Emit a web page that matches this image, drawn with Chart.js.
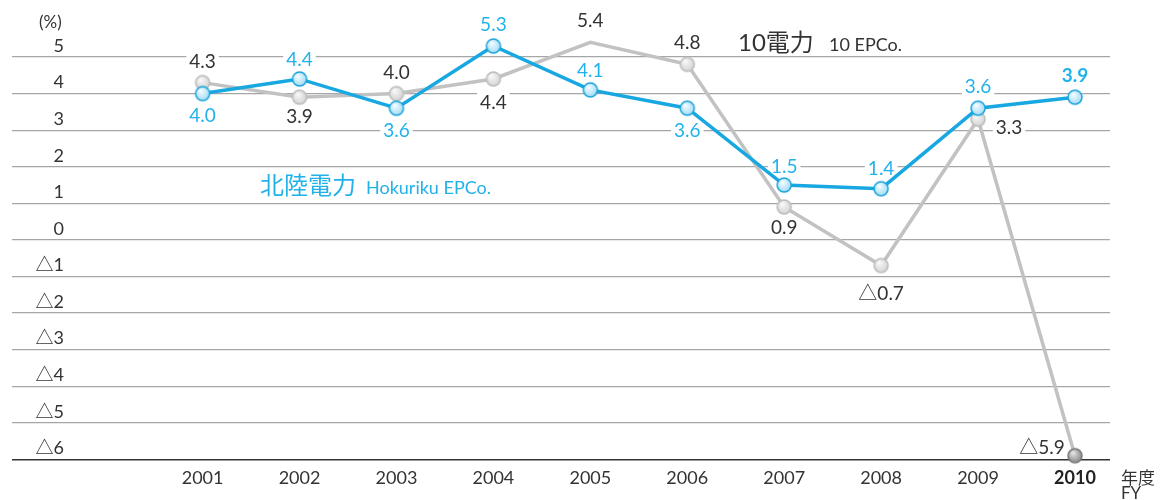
<!DOCTYPE html>
<html lang="ja">
<head>
<meta charset="UTF-8">
<title>経常利益率の推移</title>
<script src="https://cdn.jsdelivr.net/npm/chart.js"></script>
<style>
    body { margin: 0; padding: 0; background: #fff; }
    .wrap { width: 1176px; height: 500px; position: relative; }
</style>
</head>
<body>
<div class="wrap"><canvas id="grafico"></canvas></div>
<script>
    // datos
    const anios = [2001, 2002, 2003, 2004, 2005, 2006, 2007, 2008, 2009, 2010];
    const hokuriku = [4.0, 4.4, 3.6, 5.3, 4.1, 3.6, 1.5, 1.4, 3.6, 3.9];
    const diezEPCo = [4.3, 3.9, 4.0, 4.4, 5.4, 4.8, 0.9, -0.7, 3.3, -5.9];
    const yTicks = [5, 4, 3, 2, 1, 0, -1, -2, -3, -4, -5, -6];

    // posicion de las etiquetas (dx, dy) respecto al punto
    const offHokuriku = [[0,22],[0,-19],[0,23],[0,-21],[0,-19],[0,23],[0,-18],[0,-20],[0,-21],[0,-21]];
    const offDiez = [[0,-21],[0,20],[0,-21],[0,24],[0,-21],[0,-21],[0,21],[0,28],[31,9],[-33,-8]];

    const AZUL = '#17a7e1';
    const AZUL_TXT = '#22b2ea';
    const GRIS = '#c2c2c2';
    const TXT = '#333';
    const FUENTE = 'Lato, "Noto Sans CJK JP", sans-serif';

    function fmt(v) {
        return v < 0 ? '△' + Math.abs(v).toFixed(1) : v.toFixed(1);
    }

    function esfera(borde, c1, c2) {
        const c = document.createElement('canvas');
        c.width = 18; c.height = 18;
        const g = c.getContext('2d');
        const grad = g.createRadialGradient(7, 6, 1, 9, 9, 8);
        grad.addColorStop(0, c1);
        grad.addColorStop(1, c2);
        g.beginPath();
        g.arc(9, 9, 7, 0, Math.PI * 2);
        g.fillStyle = grad;
        g.fill();
        g.lineWidth = 1.5;
        g.strokeStyle = borde;
        g.stroke();
        return c;
    }
    const ptAzul = esfera('#1aa3dc', '#f2fbff', '#9ad9f4');
    const ptGris = esfera('#bdbdbd', '#f7f7f7', '#cfcfcf');
    const ptGrisOsc = esfera('#7a7a7a', '#e0e0e0', '#808080');

    const etiquetas = {
        id: 'etiquetas',
        cajas(chart) {
            const out = [];
            const ctx = chart.ctx;
            chart.data.datasets.forEach((ds, i) => {
                const meta = chart.getDatasetMeta(i);
                meta.data.forEach((pt, j) => {
                    const o = ds.offsets[j];
                    const bold = ds.boldLast && j === ds.data.length - 1;
                    const font = (bold ? 'bold ' : '') + '19px ' + FUENTE;
                    ctx.font = font;
                    const txt = fmt(ds.data[j].y);
                    const w = ctx.measureText(txt).width;
                    out.push({ x: pt.x + o[0], y: pt.y + o[1], w, txt, font, color: ds.textColor });
                });
            });
            return out;
        },
        beforeDatasetsDraw(chart) {
            const ctx = chart.ctx;
            ctx.save();
            ctx.fillStyle = '#fff';
            this.cajas(chart).forEach(b => {
                ctx.fillRect(b.x - b.w / 2 - 3, b.y - 10, b.w + 6, 20);
            });
            ctx.restore();
        },
        afterDatasetsDraw(chart) {
            const ctx = chart.ctx;
            ctx.save();
            ctx.textAlign = 'center';
            ctx.textBaseline = 'middle';
            this.cajas(chart).forEach(b => {
                ctx.font = b.font;
                ctx.fillStyle = b.color;
                ctx.fillText(b.txt, b.x, b.y);
            });

            // textos sueltos
            ctx.textAlign = 'left';
            ctx.textBaseline = 'alphabetic';
            ctx.fillStyle = TXT;
            ctx.font = '17px ' + FUENTE;
            ctx.fillText('(%)', 39, 28);
            ctx.font = '24px ' + FUENTE;
            ctx.fillText('10電力', 738, 51);
            ctx.font = '18px ' + FUENTE;
            ctx.fillText('10 EPCo.', 829, 51);
            ctx.fillStyle = AZUL_TXT;
            ctx.font = '24px ' + FUENTE;
            ctx.fillText('北陸電力', 260, 194);
            ctx.font = '18px ' + FUENTE;
            ctx.fillText('Hokuriku EPCo.', 366, 194);
            ctx.fillStyle = TXT;
            ctx.font = '17px ' + FUENTE;
            ctx.fillText('年度', 1121, 484);
            ctx.fillText('FY', 1121, 499);
            ctx.restore();
        }
    };

    const ctx = document.getElementById('grafico').getContext('2d');
    new Chart(ctx, {
        type: 'line',
        data: {
            datasets: [{
                label: '北陸電力',
                data: anios.map((a, i) => ({ x: a, y: hokuriku[i] })),
                borderColor: AZUL,
                borderWidth: 3.5,
                pointStyle: ptAzul,
                pointRadius: 8,
                tension: 0,
                clip: false,
                order: 0,
                offsets: offHokuriku,
                textColor: AZUL_TXT,
                boldLast: true
            }, {
                label: '10電力',
                data: anios.map((a, i) => ({ x: a, y: diezEPCo[i] })),
                borderColor: GRIS,
                borderWidth: 3.5,
                pointStyle: anios.map((a, i) => i === anios.length - 1 ? ptGrisOsc : ptGris),
                pointRadius: 8,
                tension: 0,
                clip: false,
                order: 1,
                offsets: offDiez,
                textColor: TXT
            }]
        },
        options: {
            responsive: true,
            maintainAspectRatio: false,
            animation: false,
            events: [],
            // el eje y ocupa (ancho etiqueta + padding) = 51px a la izquierda
            layout: { padding: { top: 57, left: -39, right: 66, bottom: 3 } },
            plugins: { legend: { display: false }, tooltip: { enabled: false } },
            scales: {
                x: {
                    type: 'linear',
                    min: 1999.0287,
                    max: 2010.3612,
                    afterBuildTicks: s => { s.ticks = anios.map(v => ({ value: v })); },
                    grid: { display: false, drawTicks: false },
                    border: { display: false },
                    ticks: {
                        padding: 8,
                        color: (c) => c.tick && c.tick.value === 2010 ? '#222' : TXT,
                        font: (c) => ({
                            family: FUENTE, size: 18,
                            weight: c.tick && c.tick.value === 2010 ? 'bold' : 'normal'
                        }),
                        callback: v => String(v)
                    }
                },
                y: {
                    min: -6,
                    max: 5,
                    afterBuildTicks: s => { s.ticks = yTicks.map(v => ({ value: v })); },
                    border: { display: false },
                    grid: {
                        drawTicks: false,
                        color: c => c.tick && c.tick.value === -6 ? '#333' : '#a6a6a6',
                        lineWidth: c => c.tick && c.tick.value === -6 ? 1.6 : 1.3
                    },
                    ticks: {
                        mirror: true,
                        crossAlign: 'far',
                        padding: 24,
                        labelOffset: -11,
                        color: TXT,
                        font: { family: FUENTE, size: 18 },
                        callback: v => v < 0 ? '△' + Math.abs(v) : String(v)
                    }
                }
            }
        },
        plugins: [etiquetas]
    });
</script>
</body>
</html>
